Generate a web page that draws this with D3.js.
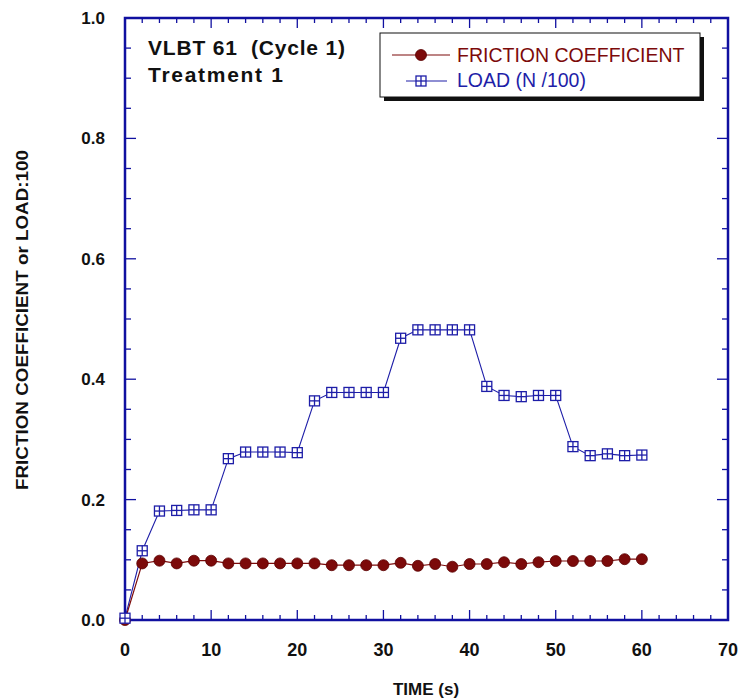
<!DOCTYPE html>
<html>
<head>
<meta charset="utf-8">
<script src="https://cdn.jsdelivr.net/npm/d3@7"></script>
<style>
  body { margin: 0; background: #fff; }
  text { font-family: Arial, "Liberation Sans", sans-serif; }
</style>
</head>
<body>
<div id="chart"></div>
<script>
// data
var time = [0, 2, 4, 6, 8, 10, 12, 14, 16, 18, 20, 22, 24, 26, 28, 30,
  32, 34, 36, 38, 40, 42, 44, 46, 48, 50, 52, 54, 56, 58, 60]
var friction = [0.0, 0.094, 0.0985, 0.094, 0.0985, 0.0985, 0.094, 0.094, 0.094, 0.094, 0.094,
  0.094, 0.091, 0.091, 0.091, 0.091, 0.095, 0.09, 0.093, 0.0885, 0.093, 0.093, 0.096, 0.093,
  0.096, 0.098, 0.098, 0.098, 0.098, 0.101, 0.101]
var load = [0.003, 0.115, 0.181, 0.182, 0.183, 0.183, 0.268, 0.279, 0.279, 0.279, 0.278,
  0.364, 0.378, 0.378, 0.378, 0.378, 0.468, 0.482, 0.482, 0.482, 0.482, 0.388, 0.373, 0.371,
  0.373, 0.373, 0.288, 0.273, 0.276, 0.273, 0.274]
var xTicks = [0, 10, 20, 30, 40, 50, 60, 70]
var yTicks = [0, 0.2, 0.4, 0.6, 0.8, 1.0]
var titleLines = ['VLBT 61  (Cycle 1)', 'Treatment 1']
var seriesNames = ['FRICTION COEFFICIENT', 'LOAD (N /100)']

var W = 743, H = 700
var margin = { top: 18, left: 125, right: 14, bottom: 80 }
var width = 728 - margin.left
var height = 620 - margin.top

var axisColor = '#1010a0'
var redColor = '#7c0a0a'
var blueColor = '#1e1ea8'

var svg = d3.select('#chart').append('svg')
  .attr('width', W).attr('height', H)

var g = svg.append('g')
  .attr('transform', 'translate(' + margin.left + ',' + margin.top + ')')

var x = d3.scaleLinear().domain([0, 70]).range([0, width])
var y = d3.scaleLinear().domain([0, 1]).range([height, 0])

// minor ticks every 2 s / 0.05, major every 10 s / 0.2
var xMinor = d3.range(0, 71, 2)
var yMinor = d3.range(0, 1.0001, 0.05)

function isMajorX(d) { return Math.abs(d % 10) < 1e-6 }
function isMajorY(d) { return Math.abs(Math.round(d * 5) - d * 5) < 1e-6 }

// tick marks on all four sides, pointing inward
var ticks = g.append('g').attr('stroke', axisColor).attr('stroke-width', 1.3)
ticks.selectAll('.xb').data(xMinor).enter().append('line')
  .attr('x1', d => x(d)).attr('x2', d => x(d))
  .attr('y1', height).attr('y2', d => height - (isMajorX(d) ? 10 : 5))
ticks.selectAll('.xt').data(xMinor).enter().append('line')
  .attr('x1', d => x(d)).attr('x2', d => x(d))
  .attr('y1', 0).attr('y2', d => isMajorX(d) ? 10 : 5)
ticks.selectAll('.yl').data(yMinor).enter().append('line')
  .attr('y1', d => y(d)).attr('y2', d => y(d))
  .attr('x1', 0).attr('x2', d => isMajorY(d) ? 11 : 6)
ticks.selectAll('.yr').data(yMinor).enter().append('line')
  .attr('y1', d => y(d)).attr('y2', d => y(d))
  .attr('x1', width).attr('x2', d => width - (isMajorY(d) ? 11 : 6))

// frame
g.append('rect')
  .attr('x', 0).attr('y', 0).attr('width', width).attr('height', height)
  .attr('fill', 'none').attr('stroke', axisColor).attr('stroke-width', 2.5)

// tick labels
g.selectAll('.xlab').data(xTicks).enter().append('text')
  .attr('x', d => x(d)).attr('y', height + 36)
  .attr('text-anchor', 'middle')
  .attr('font-size', 18).attr('font-weight', 'bold').attr('fill', '#111')
  .text(d => d)
g.selectAll('.ylab').data(yTicks).enter().append('text')
  .attr('x', -20).attr('y', d => y(d) + 6)
  .attr('text-anchor', 'end')
  .attr('font-size', 17).attr('font-weight', 'bold').attr('fill', '#111')
  .text(d => d3.format('.1f')(d))

// axis titles
svg.append('text')
  .attr('x', 426).attr('y', 695)
  .attr('text-anchor', 'middle')
  .attr('font-size', 17).attr('font-weight', 'bold').attr('fill', '#111')
  .text('TIME (s)')
svg.append('text')
  .attr('transform', 'translate(28,' + 320 + ') rotate(-90)')
  .attr('text-anchor', 'middle')
  .attr('font-size', 16).attr('font-weight', 'bold').attr('fill', '#111')
  .attr('textLength', 340).attr('lengthAdjust', 'spacingAndGlyphs')
  .text('FRICTION COEFFICIENT or LOAD:100')

var pts = time.map((t, i) => ({ t: t, f: friction[i], l: load[i] }))

// load series
g.append('path').datum(pts)
  .attr('fill', 'none').attr('stroke', blueColor).attr('stroke-width', 1.1)
  .attr('d', d3.line().x(d => x(d.t)).y(d => y(d.l)))

// friction series
g.append('path').datum(pts)
  .attr('fill', 'none').attr('stroke', redColor).attr('stroke-width', 1.2)
  .attr('d', d3.line().x(d => x(d.t)).y(d => y(d.f)))
g.selectAll('.fdot').data(pts).enter().append('circle')
  .attr('cx', d => x(d.t)).attr('cy', d => y(d.f)).attr('r', 5.5)
  .attr('fill', redColor).attr('stroke', '#5a0000').attr('stroke-width', 0.8)

function squareMarker(sel, cx, cy) {
  var s = 5
  var m = sel.append('g').attr('transform', 'translate(' + cx + ',' + cy + ')')
    .attr('stroke', blueColor).attr('stroke-width', 1.3)
  m.append('rect').attr('x', -s).attr('y', -s).attr('width', 2 * s).attr('height', 2 * s)
    .attr('fill', '#fff')
  m.append('line').attr('x1', -s).attr('x2', s).attr('y1', 0).attr('y2', 0)
  m.append('line').attr('y1', -s).attr('y2', s).attr('x1', 0).attr('x2', 0)
}
pts.forEach(d => squareMarker(g, x(d.t), y(d.l)))

// annotation
var titleWidths = [197, 135]
svg.selectAll('.title').data(titleLines).enter().append('text')
  .attr('x', 148).attr('y', (d, i) => 55 + i * 27)
  .attr('font-size', 21).attr('font-weight', 'bold').attr('fill', '#111')
  .attr('textLength', (d, i) => titleWidths[i])
  .attr('lengthAdjust', 'spacing')
  .style('white-space', 'pre')
  .text(d => d)

// legend
var lg = svg.append('g').attr('transform', 'translate(380,33)')
lg.append('rect').attr('x', 4).attr('y', 4).attr('width', 320).attr('height', 64).attr('fill', '#111')
lg.append('rect').attr('x', 0).attr('y', 0).attr('width', 320).attr('height', 64)
  .attr('fill', '#fff').attr('stroke', '#111').attr('stroke-width', 1)
lg.append('line').attr('x1', 12).attr('x2', 70).attr('y1', 22).attr('y2', 22)
  .attr('stroke', redColor).attr('stroke-width', 1.2)
lg.append('circle').attr('cx', 41).attr('cy', 22).attr('r', 5.5)
  .attr('fill', redColor).attr('stroke', '#5a0000').attr('stroke-width', 0.8)
lg.append('line').attr('x1', 26).attr('x2', 67).attr('y1', 48).attr('y2', 48)
  .attr('stroke', blueColor).attr('stroke-width', 1.1)
squareMarker(lg, 41, 48)
lg.selectAll('.ltxt').data(seriesNames).enter().append('text')
  .attr('x', 77).attr('y', (d, i) => 29 + i * 25)
  .attr('font-size', 19.5)
  .attr('fill', (d, i) => i === 0 ? redColor : blueColor)
  .text(d => d)
</script>
</body>
</html>
